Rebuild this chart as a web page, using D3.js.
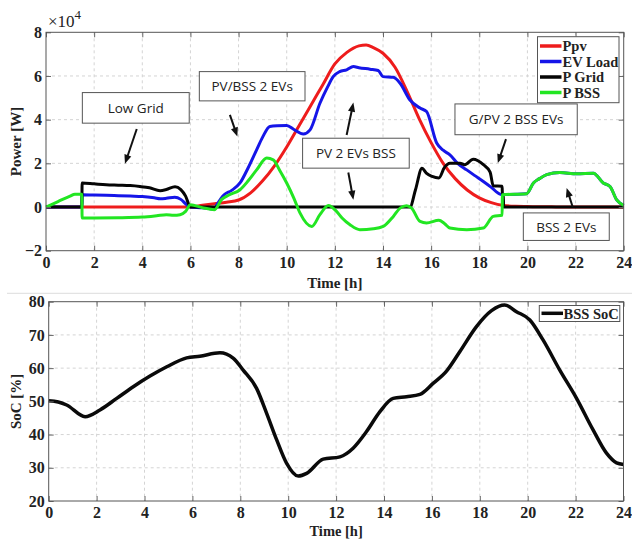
<!DOCTYPE html>
<meta charset="utf-8">
<script src="https://cdn.jsdelivr.net/npm/d3@7"></script>
<style>
 body { margin: 0; background: #fff; }
 .note text { font-family: "Open Sans", sans-serif; font-size: 13.5px; fill: #222; }
</style>
<div id="container"></div>
<script>
 // ---- data (time in hours, power in x10^4 W, SoC in %) ----
 var ppvT = [0, 6, 6.5, 7, 7.5, 8, 8.5, 9, 9.5, 10, 10.5, 11, 11.5, 12, 12.5, 13, 13.3, 13.6, 14, 14.5, 15, 15.5, 16, 16.5, 17, 17.5, 18, 18.5, 19, 19.5, 20, 21, 21.5, 24];
 var ppvV = [0, 0, 0.08, 0.15, 0.22, 0.32, 0.65, 1.2, 1.9, 2.75, 3.7, 4.65, 5.6, 6.55, 7.08, 7.38, 7.42, 7.3, 7.04, 6.4, 5.3, 4.05, 2.95, 2.0, 1.3, 0.78, 0.42, 0.2, 0.07, 0.03, 0.02, 0.01, 0, 0];

 var bssT = [0, 0.5, 1.0, 1.2, 1.49, 1.5, 2, 3, 4, 4.6, 5, 5.3, 5.57, 5.8, 6, 6.5, 7, 7.3, 7.6, 8.06, 8.4, 8.75, 9.17, 9.44, 9.7, 10, 10.3, 10.55, 11.04, 11.38, 11.73, 12.07, 12.3, 12.63, 13.04, 13.6, 14.01, 14.43, 14.71, 14.98, 15.19, 15.54, 15.81, 16.32, 16.55, 16.78, 17.48, 18.17, 18.58, 18.95, 18.96, 19.97, 20.25, 20.5, 20.8, 21.35, 22.05, 22.74, 23.15, 23.43, 23.71, 24];
 var bssV = [0, 0.25, 0.5, 0.59, 0.59, -0.5, -0.5, -0.49, -0.46, -0.4, -0.35, -0.38, -0.35, -0.2, 0.1, -0.03, -0.12, 0.35, 0.55, 0.79, 1.2, 1.7, 2.24, 2.16, 1.7, 1.1, 0.4, -0.27, -0.89, -0.35, 0.07, -0.2, -0.5, -0.81, -1.04, -1.0, -0.89, -0.43, -0.05, 0.06, -0.05, -0.66, -0.73, -0.61, -0.75, -0.96, -1.04, -0.96, -0.43, -0.38, 0.56, 0.61, 1.1, 1.3, 1.48, 1.58, 1.52, 1.55, 1.1, 0.94, 0.33, 0.08];

 var loadT = [0, 1.49, 1.5, 2, 2.5, 3, 3.5, 4, 4.5, 4.75, 5, 5.35, 5.6, 5.8, 5.95, 6, 6.5, 7, 7.1, 7.4, 7.7, 8.06, 8.4, 8.75, 9.0, 9.3, 9.6, 10, 10.3, 10.69, 10.97, 11.38, 11.7, 11.93, 12.2, 12.49, 12.77, 13.0, 13.46, 13.8, 14.0, 14.43, 14.71, 15.12, 15.54, 15.81, 16.23, 16.5, 16.78, 17.1, 17.48, 17.8, 18.17, 18.5, 18.86, 18.96, 19.97, 20.25, 20.5, 20.8, 21.35, 22.05, 22.74, 23.15, 23.43, 23.71, 24];
 var loadV = [0, 0, 0.56, 0.55, 0.54, 0.52, 0.5, 0.48, 0.42, 0.38, 0.4, 0.45, 0.35, 0.15, 0.02, 0, -0.03, -0.1, 0.1, 0.56, 0.75, 1.1, 1.8, 2.62, 3.2, 3.69, 3.72, 3.73, 3.55, 3.34, 3.53, 4.75, 5.5, 5.97, 6.2, 6.28, 6.43, 6.38, 6.31, 6.25, 5.97, 5.94, 5.67, 4.9, 4.53, 4.37, 2.93, 2.6, 2.39, 2.0, 1.7, 1.45, 1.17, 0.9, 0.59, 0.57, 0.61, 1.1, 1.3, 1.48, 1.58, 1.52, 1.55, 1.1, 0.94, 0.33, 0.08];

 var gridT = [0, 1.49, 1.5, 2, 2.5, 3, 3.5, 3.9, 4.3, 4.74, 5, 5.36, 5.6, 5.8, 6, 15.12, 15.35, 15.62, 15.8, 16.04, 16.32, 16.55, 16.78, 17.2, 17.4, 17.75, 18.17, 18.45, 18.58, 18.95, 18.96, 19.0, 19.01, 24];
 var gridV = [0, 0, 1.1, 1.06, 1.02, 1.0, 0.98, 0.94, 0.88, 0.75, 0.8, 0.93, 0.8, 0.5, 0, 0, 0.79, 1.78, 1.55, 1.4, 1.33, 1.8, 2.0, 2.0, 1.94, 2.19, 1.94, 1.6, 0.97, 0.95, 0.57, 0.57, 0, 0];

 var socT = [0, 0.4, 0.75, 1.52, 2.14, 2.84, 3.53, 4.23, 4.93, 5.76, 6.31, 7.15, 7.7, 8.12, 8.68, 9.1, 9.52, 9.93, 10.42, 10.77, 11.46, 12.16, 12.71, 13.27, 13.83, 14.38, 14.94, 15.5, 16.05, 16.61, 17.17, 17.86, 18.49, 19.04, 19.53, 20.09, 20.64, 21.34, 22.04, 22.73, 23.29, 23.71, 24];
 var socV = [50.2, 49.8, 48.9, 45.4, 47.4, 50.9, 54.4, 57.6, 60.4, 63.1, 63.6, 64.6, 63, 59.4, 53.9, 46.4, 38.4, 31.4, 27.5, 28.3, 32.6, 33.3, 35.9, 40.9, 46.9, 50.9, 51.4, 52.1, 55.4, 59.1, 65, 72.5, 77.3, 79, 77, 74.5, 68.5, 59.4, 50.9, 41.4, 34.4, 31.5, 31];

 var hourTicks = [0, 2, 4, 6, 8, 10, 12, 14, 16, 18, 20, 22, 24];
 var powerTicks = [-2, 0, 2, 4, 6, 8];
 var socTicks = [20, 30, 40, 50, 60, 70, 80];

 var series = [
   {name: "Ppv", t: ppvT, v: ppvV, color: "#ee1c1c"},
   {name: "EV Load", t: loadT, v: loadV, color: "#1515e8"},
   {name: "P Grid", t: gridT, v: gridV, color: "#050505"},
   {name: "P BSS", t: bssT, v: bssV, color: "#22e622"}
 ];

 // annotation boxes: [x0, x1] hours, [y0, y1] x10^4 W ; arrows from -> to
 var notes = [
   {label: "Low Grid", box: [1.51, 5.95, 5.24, 3.84], arrows: [[3.77, 3.57, 3.28, 1.98]]},
   {label: "PV/BSS 2 EVs", box: [6.37, 10.76, 6.2, 4.86], arrows: [[7.64, 4.22, 7.95, 3.23]]},
   {label: "PV 2 EVs BSS", box: [10.66, 15.09, 3.15, 1.78], arrows: [[12.49, 3.3, 12.77, 4.78], [12.56, 1.58, 12.77, 0.33]]},
   {label: "G/PV 2 BSS EVs", box: [16.99, 22.07, 4.72, 3.31], arrows: [[19.11, 3.11, 18.77, 2.01]]},
   {label: "BSS 2 EVs", box: [19.83, 23.4, -0.27, -1.53], arrows: [[21.88, 0.0, 21.63, 0.87]]}
 ];

 var serif = "'Liberation Serif', 'DejaVu Serif', serif";
 var W = 632, H = 539;
 var svg = d3.select("#container").append("svg").attr("width", W).attr("height", H);

 // scales
 var xTop = d3.scaleLinear().domain([0, 24]).range([46, 623.7]);
 var yTop = d3.scaleLinear().domain([-2, 8]).range([250.7, 32.3]);
 var xBot = d3.scaleLinear().domain([0, 24]).range([48.7, 623.5]);
 var yBot = d3.scaleLinear().domain([20, 80]).range([501, 301.7]);

 // separator between the two panels
 svg.append("line").attr("x1", 7).attr("x2", W).attr("y1", 293.3).attr("y2", 293.3)
    .attr("stroke", "#ddd").attr("stroke-width", 1);

 function panel(x, y, xt, yt) {
     var g = svg.append("g");
     var x0 = x.range()[0], x1 = x.range()[1], y0 = y.range()[1], y1 = y.range()[0];
     g.append("rect").attr("x", x0).attr("y", y0).attr("width", x1 - x0).attr("height", y1 - y0).attr("fill", "#fff");
     // dashed grid
     g.selectAll("line.vg").data(xt.slice(1, -1)).enter().append("line")
      .attr("x1", d => x(d)).attr("x2", d => x(d)).attr("y1", y0).attr("y2", y1)
      .attr("stroke", "#d4d4d4").attr("stroke-dasharray", "3,3");
     g.selectAll("line.hg").data(yt.slice(1, -1)).enter().append("line")
      .attr("y1", d => y(d)).attr("y2", d => y(d)).attr("x1", x0).attr("x2", x1)
      .attr("stroke", "#d4d4d4").attr("stroke-dasharray", "3,3");
     return g;
 }

 function styleLabels(sel) {
     sel.attr("font-family", serif).attr("font-size", 16);
     sel.selectAll("text")
        .attr("font-weight", "bold")
        .attr("fill", "#222");
 }

 function frame(x, y, xt, yt) {
     var g = svg.append("g");
     var x0 = x.range()[0], x1 = x.range()[1], y0 = y.range()[1], y1 = y.range()[0];
     g.append("g").attr("transform", `translate(0,${y1})`)
      .call(d3.axisBottom(x).tickValues(xt).tickSize(-5).tickSizeOuter(0).tickPadding(6))
      .call(styleLabels);
     g.append("g").attr("transform", `translate(${x0},0)`)
      .call(d3.axisLeft(y).tickValues(yt).tickSize(-5).tickSizeOuter(0).tickPadding(4))
      .call(styleLabels);
     g.append("g").attr("transform", `translate(0,${y0})`)
      .call(d3.axisTop(x).tickValues(xt).tickSize(-5).tickSizeOuter(0).tickFormat(""));
     g.append("g").attr("transform", `translate(${x1},0)`)
      .call(d3.axisRight(y).tickValues(yt).tickSize(-5).tickSizeOuter(0).tickFormat(""));
     g.selectAll(".domain").remove();
     g.selectAll(".tick line").attr("stroke", "#666");
     g.append("rect").attr("x", x0).attr("y", y0).attr("width", x1 - x0).attr("height", y1 - y0)
      .attr("fill", "none").attr("stroke", "#555").attr("stroke-width", 1);
     return g;
 }

 // ---------- top panel ----------
 panel(xTop, yTop, hourTicks, powerTicks);

 var lineTop = d3.line().x(d => xTop(d[0])).y(d => yTop(d[1])).curve(d3.curveMonotoneX);
 series.forEach(function(s) {
     svg.append("path")
        .datum(s.t.map((t, i) => [t, s.v[i]]))
        .attr("d", lineTop)
        .attr("fill", "none")
        .attr("stroke", s.color)
        .attr("stroke-width", 3)
        .attr("stroke-linejoin", "round");
 });

 frame(xTop, yTop, hourTicks, powerTicks);

 // x10^4 multiplier
 var mult = svg.append("text").attr("x", xTop(0) + 2).attr("y", 27)
               .attr("font-family", serif).attr("font-size", 17).attr("fill", "#222");
 mult.append("tspan").text("\u00d710");
 mult.append("tspan").attr("dy", -8).attr("font-size", 13).text("4");

 svg.append("text").attr("transform", `translate(21,${yTop(3)}) rotate(-90)`)
    .attr("text-anchor", "middle").attr("font-family", serif)
    .attr("font-weight", "bold").attr("font-size", 15).attr("fill", "#222").text("Power [W]");
 svg.append("text").attr("x", (xTop(0) + xTop(24)) / 2).attr("y", 288)
    .attr("text-anchor", "middle").attr("font-family", serif)
    .attr("font-weight", "bold").attr("font-size", 15).attr("fill", "#222").text("Time [h]");

 // annotations
 var ng = svg.append("g").attr("class", "note");
 notes.forEach(function(n) {
     var bx = xTop(n.box[0]), by = yTop(n.box[2]);
     var bw = xTop(n.box[1]) - bx, bh = yTop(n.box[3]) - by;
     ng.append("rect").attr("x", bx).attr("y", by).attr("width", bw).attr("height", bh)
       .attr("fill", "#fff").attr("stroke", "#555").attr("stroke-width", 1);
     ng.append("text").attr("x", bx + bw / 2).attr("y", by + bh / 2 + 5)
       .attr("text-anchor", "middle").text(n.label);
     n.arrows.forEach(function(a) {
         var xa = xTop(a[0]), ya = yTop(a[1]), xb = xTop(a[2]), yb = yTop(a[3]);
         var dx = xb - xa, dy = yb - ya, len = Math.sqrt(dx * dx + dy * dy);
         var ux = dx / len, uy = dy / len, hl = 9, hw = 3.6;
         ng.append("line").attr("x1", xa).attr("y1", ya)
           .attr("x2", xb - ux * hl * 0.8).attr("y2", yb - uy * hl * 0.8)
           .attr("stroke", "#111").attr("stroke-width", 2);
         var bxp = xb - ux * hl, byp = yb - uy * hl;
         ng.append("path")
           .attr("d", `M${xb},${yb}L${bxp - uy * hw},${byp + ux * hw}L${bxp + uy * hw},${byp - ux * hw}Z`)
           .attr("fill", "#111");
     });
 });

 // legend top
 var lg = svg.append("g");
 lg.append("rect").attr("x", 537.5).attr("y", 36.7).attr("width", 81.5).attr("height", 66)
   .attr("fill", "#fff").attr("stroke", "#555").attr("stroke-width", 1);
 series.forEach(function(s, i) {
     var yy = 46 + i * 15.5;
     lg.append("line").attr("x1", 540).attr("x2", 561.5).attr("y1", yy).attr("y2", yy)
       .attr("stroke", s.color).attr("stroke-width", 3.5);
     lg.append("text").attr("x", 562.5).attr("y", yy + 5)
       .attr("font-family", serif).attr("font-weight", "bold")
       .attr("font-size", 14.5).attr("fill", "#222").text(s.name);
 });

 // ---------- bottom panel ----------
 panel(xBot, yBot, hourTicks, socTicks);

 var lineBot = d3.line().x(d => xBot(d[0])).y(d => yBot(d[1])).curve(d3.curveMonotoneX);
 svg.append("path")
    .datum(socT.map((t, i) => [t, socV[i]]))
    .attr("d", lineBot)
    .attr("fill", "none")
    .attr("stroke", "#0a0a0a")
    .attr("stroke-width", 3.5)
    .attr("stroke-linejoin", "round");

 frame(xBot, yBot, hourTicks, socTicks);

 svg.append("text").attr("transform", `translate(21,${yBot(50)}) rotate(-90)`)
    .attr("text-anchor", "middle").attr("font-family", serif)
    .attr("font-weight", "bold").attr("font-size", 15).attr("fill", "#222").text("SoC [%]");
 svg.append("text").attr("x", (xBot(0) + xBot(24)) / 2).attr("y", 536)
    .attr("text-anchor", "middle").attr("font-family", serif)
    .attr("font-weight", "bold").attr("font-size", 14.5).attr("fill", "#222").text("Time [h]");

 var lb = svg.append("g");
 lb.append("rect").attr("x", 539.3).attr("y", 305.5).attr("width", 80.5).attr("height", 16)
   .attr("fill", "#fff").attr("stroke", "#555").attr("stroke-width", 1);
 lb.append("line").attr("x1", 541.5).attr("x2", 563).attr("y1", 313.3).attr("y2", 313.3)
   .attr("stroke", "#0a0a0a").attr("stroke-width", 3.5);
 lb.append("text").attr("x", 563.5).attr("y", 318.5)
   .attr("font-family", serif).attr("font-weight", "bold")
   .attr("font-size", 14.5).attr("fill", "#222").text("BSS SoC");
</script>
